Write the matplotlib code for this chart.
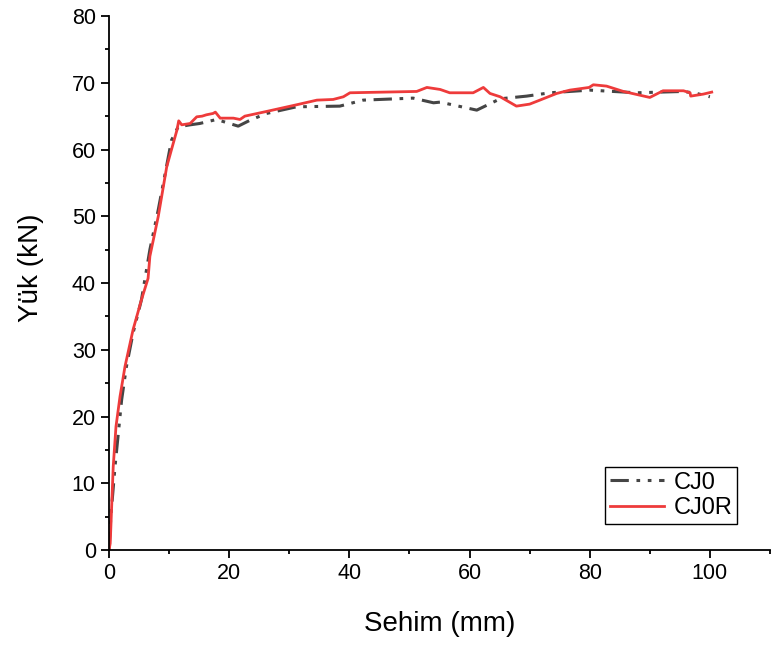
import numpy as np
import matplotlib.pyplot as plt
from matplotlib.ticker import MultipleLocator

plt.rcParams['font.family'] = ['Liberation Sans', 'DejaVu Sans']

# CJ0 (dash-dot grey)
cj0_x = [0, 0.3, 1.0, 1.55, 2.1, 2.9, 4.0, 5.4, 6.8, 8.2, 10.4, 11.5, 13.5, 15.1,
         17.9, 21.5, 23.5, 26.2, 31.2, 38.4, 42.3, 50.6, 54.0, 55.1, 61.2, 65.1,
         69.5, 73.4, 80.0, 87.8, 95.6, 97.8, 100.0]
cj0_y = [0, 5, 12.5, 17.5, 22.5, 27.5, 32.5, 37.5, 45, 51, 61.4, 63.4, 63.7, 63.9,
         64.5, 63.5, 64.4, 65.4, 66.4, 66.5, 67.4, 67.7, 67.0, 67.1, 65.9, 67.6,
         68.0, 68.5, 68.9, 68.5, 68.7, 68.4, 67.9]

# CJ0R (solid red)
cj0r_x = [0, 0.2, 0.7, 1.16, 1.83, 2.66, 4.0, 5.4, 6.5, 6.8, 8.2, 9.6, 10.4, 11.3,
          11.6, 12.1, 13.5, 14.6, 15.5, 16.2, 17.3, 17.7, 18.5, 20.7, 21.8, 22.6,
          26.2, 31.2, 34.6, 37.3, 39.0, 40.1, 51.2, 52.9, 55.1, 56.7, 60.6, 62.3,
          63.4, 65.1, 67.8, 70.0, 71.7, 74.5, 76.7, 79.9, 80.6, 82.8, 85.6, 90.0,
          92.2, 95.6, 96.7, 96.8, 98.9, 100.3]
cj0r_y = [0, 1, 12.5, 18.5, 23, 27.5, 33, 37.5, 40.7, 44, 50, 57.4, 60, 62.9,
          64.3, 63.7, 63.9, 64.9, 65.0, 65.2, 65.4, 65.6, 64.7, 64.7, 64.5, 65.0,
          65.7, 66.7, 67.4, 67.5, 67.9, 68.5, 68.7, 69.3, 69.0, 68.5, 68.5, 69.3,
          68.4, 67.9, 66.5, 66.8, 67.4, 68.4, 68.9, 69.3, 69.7, 69.5, 68.7, 67.8,
          68.8, 68.8, 68.5, 68.0, 68.3, 68.6]

fig = plt.figure(figsize=(7.71, 6.46), dpi=100)
ax = fig.add_axes([0.1414, 0.1486, 0.8573, 0.8266])

ax.plot(cj0_x, cj0_y, color='#454545', lw=2.2, label='CJ0',
        dashes=(6, 2.5, 1.2, 2.5, 1.2, 2.5))
ax.plot(cj0r_x, cj0r_y, color='#ee3b3b', lw=2.0, label='CJ0R')

ax.set_xlim(0, 110)
ax.set_ylim(0, 80)
ax.xaxis.set_major_locator(MultipleLocator(20))
ax.xaxis.set_minor_locator(MultipleLocator(10))
ax.yaxis.set_major_locator(MultipleLocator(10))
ax.yaxis.set_minor_locator(MultipleLocator(5))
ax.spines['top'].set_visible(False)
ax.spines['right'].set_visible(False)
for s in ('left', 'bottom'):
    ax.spines[s].set_linewidth(1.3)
ax.tick_params(which='major', direction='out', length=5.5, width=1.3,
               labelsize=15.5, pad=4)
ax.tick_params(which='minor', direction='out', length=3, width=1.3)

ax.set_xlabel('Sehim (mm)', fontsize=20, labelpad=19)
ax.set_ylabel('Yük (kN)', fontsize=20)
ax.yaxis.set_label_coords(-0.098, 0.528)

leg = ax.legend(loc='lower right', bbox_to_anchor=(0.95, 0.049), fontsize=17,
                fancybox=False, edgecolor='black', framealpha=1,
                handlelength=2.3, handletextpad=0.4, borderpad=0.2,
                labelspacing=0.15, borderaxespad=0)
leg.get_frame().set_linewidth(1.0)

fig.savefig('out.png', dpi=100)
